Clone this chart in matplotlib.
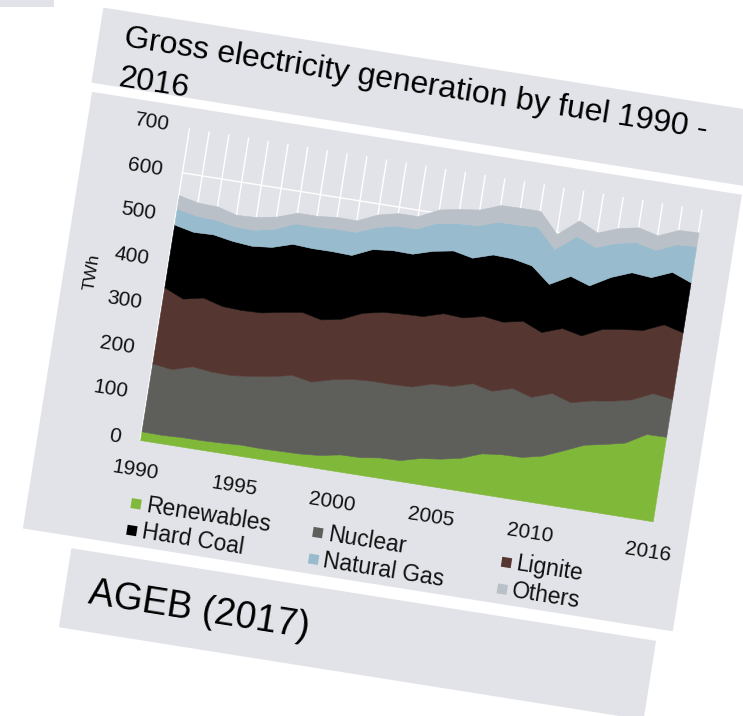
import matplotlib
matplotlib.use("Agg")
import matplotlib.pyplot as plt
from matplotlib.transforms import Affine2D
from matplotlib.patches import Rectangle

plt.rcParams['font.family'] = ['Liberation Sans', 'DejaVu Sans']

# ---------------- data (TWh) ----------------
years = list(range(1990, 2017))
renewables = [19.7, 18.9, 20.9, 21.1, 22.6, 24.9, 24.0, 24.9, 25.9, 29.5,
              37.9, 38.9, 45.1, 46.2, 57.9, 63.4, 72.5, 89.4, 94.3, 95.3,
              105.2, 124.0, 143.8, 152.4, 162.5, 188.8, 189.7]
nuclear = [152.5, 147.4, 158.8, 153.5, 151.2, 154.1, 161.6, 170.3, 161.6, 170.0,
           169.6, 171.3, 164.8, 165.1, 167.1, 163.0, 167.3, 140.5, 148.8, 134.9,
           140.6, 108.0, 99.5, 97.3, 97.1, 91.8, 84.9]
lignite = [170.9, 158.3, 154.3, 147.5, 146.1, 142.6, 144.3, 141.7, 139.4, 136.0,
           148.3, 154.8, 158.0, 158.2, 158.0, 154.1, 151.1, 155.1, 150.6, 145.6,
           145.9, 150.1, 160.7, 160.9, 155.8, 154.5, 149.5]
hard_coal = [140.8, 149.8, 141.9, 146.1, 144.3, 147.1, 152.7, 143.1, 153.4, 143.1,
             143.1, 138.4, 134.6, 146.5, 140.8, 134.1, 137.9, 142.0, 124.6, 107.9,
             117.0, 112.4, 116.4, 127.3, 118.6, 117.7, 112.2]
natural_gas = [35.9, 36.6, 33.1, 32.6, 35.9, 41.1, 46.0, 48.0, 50.8, 51.8,
               49.2, 55.5, 56.3, 62.9, 61.4, 72.7, 73.4, 76.0, 86.7, 78.3,
               89.3, 86.1, 76.4, 67.5, 61.1, 62.0, 81.3]
others = [30.1, 29.2, 29.4, 25.8, 28.5, 27.0, 24.0, 24.4, 25.6, 25.9,
          28.5, 27.5, 27.9, 29.9, 31.6, 35.3, 37.4, 37.6, 35.7, 33.6,
          35.1, 32.5, 33.3, 33.3, 32.7, 32.1, 30.8]

stack_names = ["Renewables", "Nuclear", "Lignite", "Hard Coal", "Natural Gas", "Others"]
stack_values = [renewables, nuclear, lignite, hard_coal, natural_gas, others]
colors = {"Renewables": "#80b83a", "Nuclear": "#5e5f5b", "Lignite": "#553631",
          "Hard Coal": "#000000", "Natural Gas": "#98bccd", "Others": "#b9c0c7"}
legend_order = ["Renewables", "Hard Coal", "Nuclear", "Natural Gas", "Lignite", "Others"]
y_ticks = [0, 100, 200, 300, 400, 500, 600, 700]
x_tick_labels = [1990, 1995, 2000, 2005, 2010, 2016]
title_lines = ["Gross electricity generation by fuel 1990 -", "2016"]
y_label = "TWh"
source_text = "AGEB (2017)"

# ---------------- layout ----------------
W, H, DPI = 743, 716, 100
fig = plt.figure(figsize=(W / DPI, H / DPI), dpi=DPI)
fig.patch.set_facecolor("white")

ANGLE = 9.0
OX, OY = 93.0, 92.0                     # card origin (image px, y down)
rot = Affine2D().rotate_deg_around(OX, H - OY, -ANGLE)
card = Affine2D().scale(1, -1).translate(OX, H - OY) + rot   # (u, v) card px -> display
image_tr = Affine2D().scale(1, -1).translate(0, H)            # image px -> display

u0, u1 = 101.0, 620.0
v_top, v_bot = 20.7, 336.4
ax = fig.add_axes([(OX + u0) / W, (H - OY - v_bot) / H, (u1 - u0) / W, (v_bot - v_top) / H])
ax.set_xlim(1990, 2016)
ax.set_ylim(0, 700)
ax.set_autoscale_on(False)
ax.set_axis_off()
tr = ax.transData + rot

BG = "#e2e3e8"
TXT = "#111111"

# small unrotated grey piece at top-left
ax.add_patch(Rectangle((0, 0), 54, 7, transform=image_tr, facecolor=BG,
                       edgecolor="none", clip_on=False, zorder=0))
# card boxes
for (bu, bv, bw, bh) in [(-3, -85, 670, 76), (-1, 0, 658, 442), (50, 454, 592, 80)]:
    ax.add_patch(Rectangle((bu, bv), bw, bh, transform=card, facecolor=BG,
                           edgecolor="none", clip_on=False, zorder=0))

# gridlines
ax.vlines(years, 0, 700, colors="white", lw=1.0, transform=tr, zorder=1, clip_on=False)
ax.hlines([100, 200, 300, 400, 500, 600], 1990, 2016, colors="white", lw=1.0,
          transform=tr, zorder=1, clip_on=False)

# stacked areas
base = [0.0] * len(years)
for name, vals in zip(stack_names, stack_values):
    top = [b + v for b, v in zip(base, vals)]
    ax.fill_between(years, base, top, facecolor=colors[name], edgecolor=colors[name],
                    lw=0.4, transform=tr, zorder=2, clip_on=False)
    base = top


def ctext(u, v, s, rotation=-ANGLE, **kw):
    ax.text(u, v, s, transform=card, rotation=rotation, rotation_mode="anchor",
            clip_on=False, **kw)


# y tick labels
ylab_tr = ax.transData + Affine2D().translate(-20, 0) + rot
for val in y_ticks:
    ax.text(1990, val, str(val), transform=ylab_tr, ha="right", va="center",
            rotation=-ANGLE, rotation_mode="anchor", fontsize=15, color=TXT, clip_on=False)
# x tick labels
xlab_tr = ax.transData + Affine2D().translate(0, -31) + rot
for yr in x_tick_labels:
    ax.text(yr, 0, str(yr), transform=xlab_tr, ha="center", va="center",
            rotation=-ANGLE, rotation_mode="anchor", fontsize=15, color=TXT, clip_on=False)

ctext(27, 178, y_label, rotation=90 - ANGLE, ha="center", va="center", fontsize=12.5, color=TXT)

# legend (3 columns x 2 rows, column-major)
col_u = [107, 291, 482]
row_v = [400, 427]
for i, name in enumerate(legend_order):
    cu, rv = col_u[i // 2], row_v[i % 2]
    ax.add_patch(Rectangle((cu - 5, rv - 5), 10, 10, transform=card, facecolor=colors[name],
                           edgecolor="none", clip_on=False, zorder=3))
    ctext(cu + 10, rv, name, ha="left", va="center", fontsize=16.5, color=TXT)

# title and source
ctext(23, -50, title_lines[0], ha="left", va="baseline", fontsize=23, color="black")
ctext(23, -10, title_lines[1], ha="left", va="baseline", fontsize=23, color="black")
ctext(74, 506, source_text, ha="left", va="baseline", fontsize=27, color="black")

fig.savefig("out.png", dpi=DPI, facecolor="white")
